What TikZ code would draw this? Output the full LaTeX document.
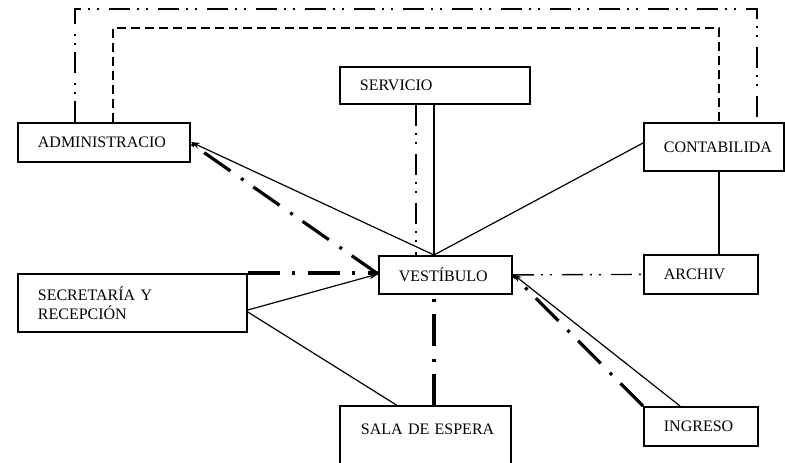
\documentclass[tikz,border=0pt]{standalone}
\usepackage{fontspec}
\setmainfont{Liberation Serif}
\usetikzlibrary{calc,arrows.meta}
\begin{document}
\begin{tikzpicture}[x=1pt,y=-1pt,
  box/.style={draw,line width=1.8pt,anchor=north west,inner xsep=20pt,inner ysep=0pt,align=left,font=\fontsize{16}{19}\selectfont},
  conn/.style={line width=1.2pt},
  thickdd/.style={line width=3.2pt,dash pattern=on 32pt off 12pt on 3pt off 13pt},
  ddot/.style={line width=1.4pt,dash pattern=on 21pt off 7pt on 2pt off 7pt on 2pt off 10pt},
  dsh/.style={line width=1.5pt,dash pattern=on 9pt off 5pt},
  arr/.style={-{Stealth[length=9pt,width=6pt]}}
]
\clip (0,0) rectangle (785,463);
\useasboundingbox (0,0) rectangle (785,463);

\node[box,text width=132pt,minimum height=39pt] (admin) at (17,122) {\mbox{ADMINISTRACIO}};
\node[box,text width=150pt,minimum height=37pt] (serv) at (339,66) {\mbox{SERVICIO}};
\node[box,text width=100pt,minimum height=48pt] (cont) at (643,122) {\mbox{CONTABILIDA}};
\node[box,text width=93pt,minimum height=38pt] (vest) at (378,255) {\mbox{VESTÍBULO}};
\node[box,text width=74pt,minimum height=39pt] (arch) at (643,254) {\mbox{ARCHIV}};
\node[box,text width=189pt,minimum height=58pt] (secr) at (17,273) {\mbox{SECRETARÍA Y}\\\mbox{RECEPCIÓN}};
\node[box,draw=none,text width=131pt,minimum height=44pt] (sala) at (340,406) {\mbox{SALA DE ESPERA}};
\draw[line width=1.8pt] (sala.north west) rectangle ++(171,80);
\node[box,text width=74pt,minimum height=39pt] (ingr) at (643,406) {\mbox{INGRESO}};

\coordinate (vtop) at ($(vest.north west)+(56,0)$);

% outer loops
\draw[ddot] ($(admin.north west)+(58,0)$) -- ++(0,-113) -| ($(cont.north west)+(114,0)$);
\draw[dsh] ($(admin.north west)+(96,0)$) -- ++(0,-94) -| ($(cont.north west)+(76,0)$);

% thin solid connectors
\draw[conn,arr] (vtop) -- ($(admin.north east)+(0,20)$);
\draw[conn] (vtop) -- ($(cont.north west)+(0,21)$);
\draw[conn] ($(serv.south west)+(95,0)$) -- (vtop);
\draw[conn] ($(cont.south west)+(76,0)$) -- ($(arch.north west)+(76,0)$);
\draw[conn,arr] ($(secr.north east)+(0,37)$) -- ($(vest.north west)+(0,19)$);
\draw[conn] ($(secr.north east)+(0,39)$) -- ($(sala.north west)+(58,0)$);
\draw[conn,arr] ($(ingr.north west)+(37,0)$) -- ($(vest.north east)+(0,19)$);

% thin dash-dot-dot
\draw[ddot] ($(serv.south west)+(77,0)$) -- ($(vest.north west)+(38,0)$);
\draw[ddot] (vest.east) -- (arch.west);

% thick dash-dot
\draw[thickdd] (secr.north east) -- ($(vest.north west)+(0,18)$);
\draw[thickdd] ($(vest.north west)+(0,19)$) -- ($(admin.north east)+(1,22)$);
\draw[thickdd] ($(sala.north west)+(94,0)$) -- ($(vest.south west)+(56,0)$);
\draw[thickdd] (ingr.north west) -- ($(vest.north east)+(0,20)$);
\end{tikzpicture}
\end{document}
